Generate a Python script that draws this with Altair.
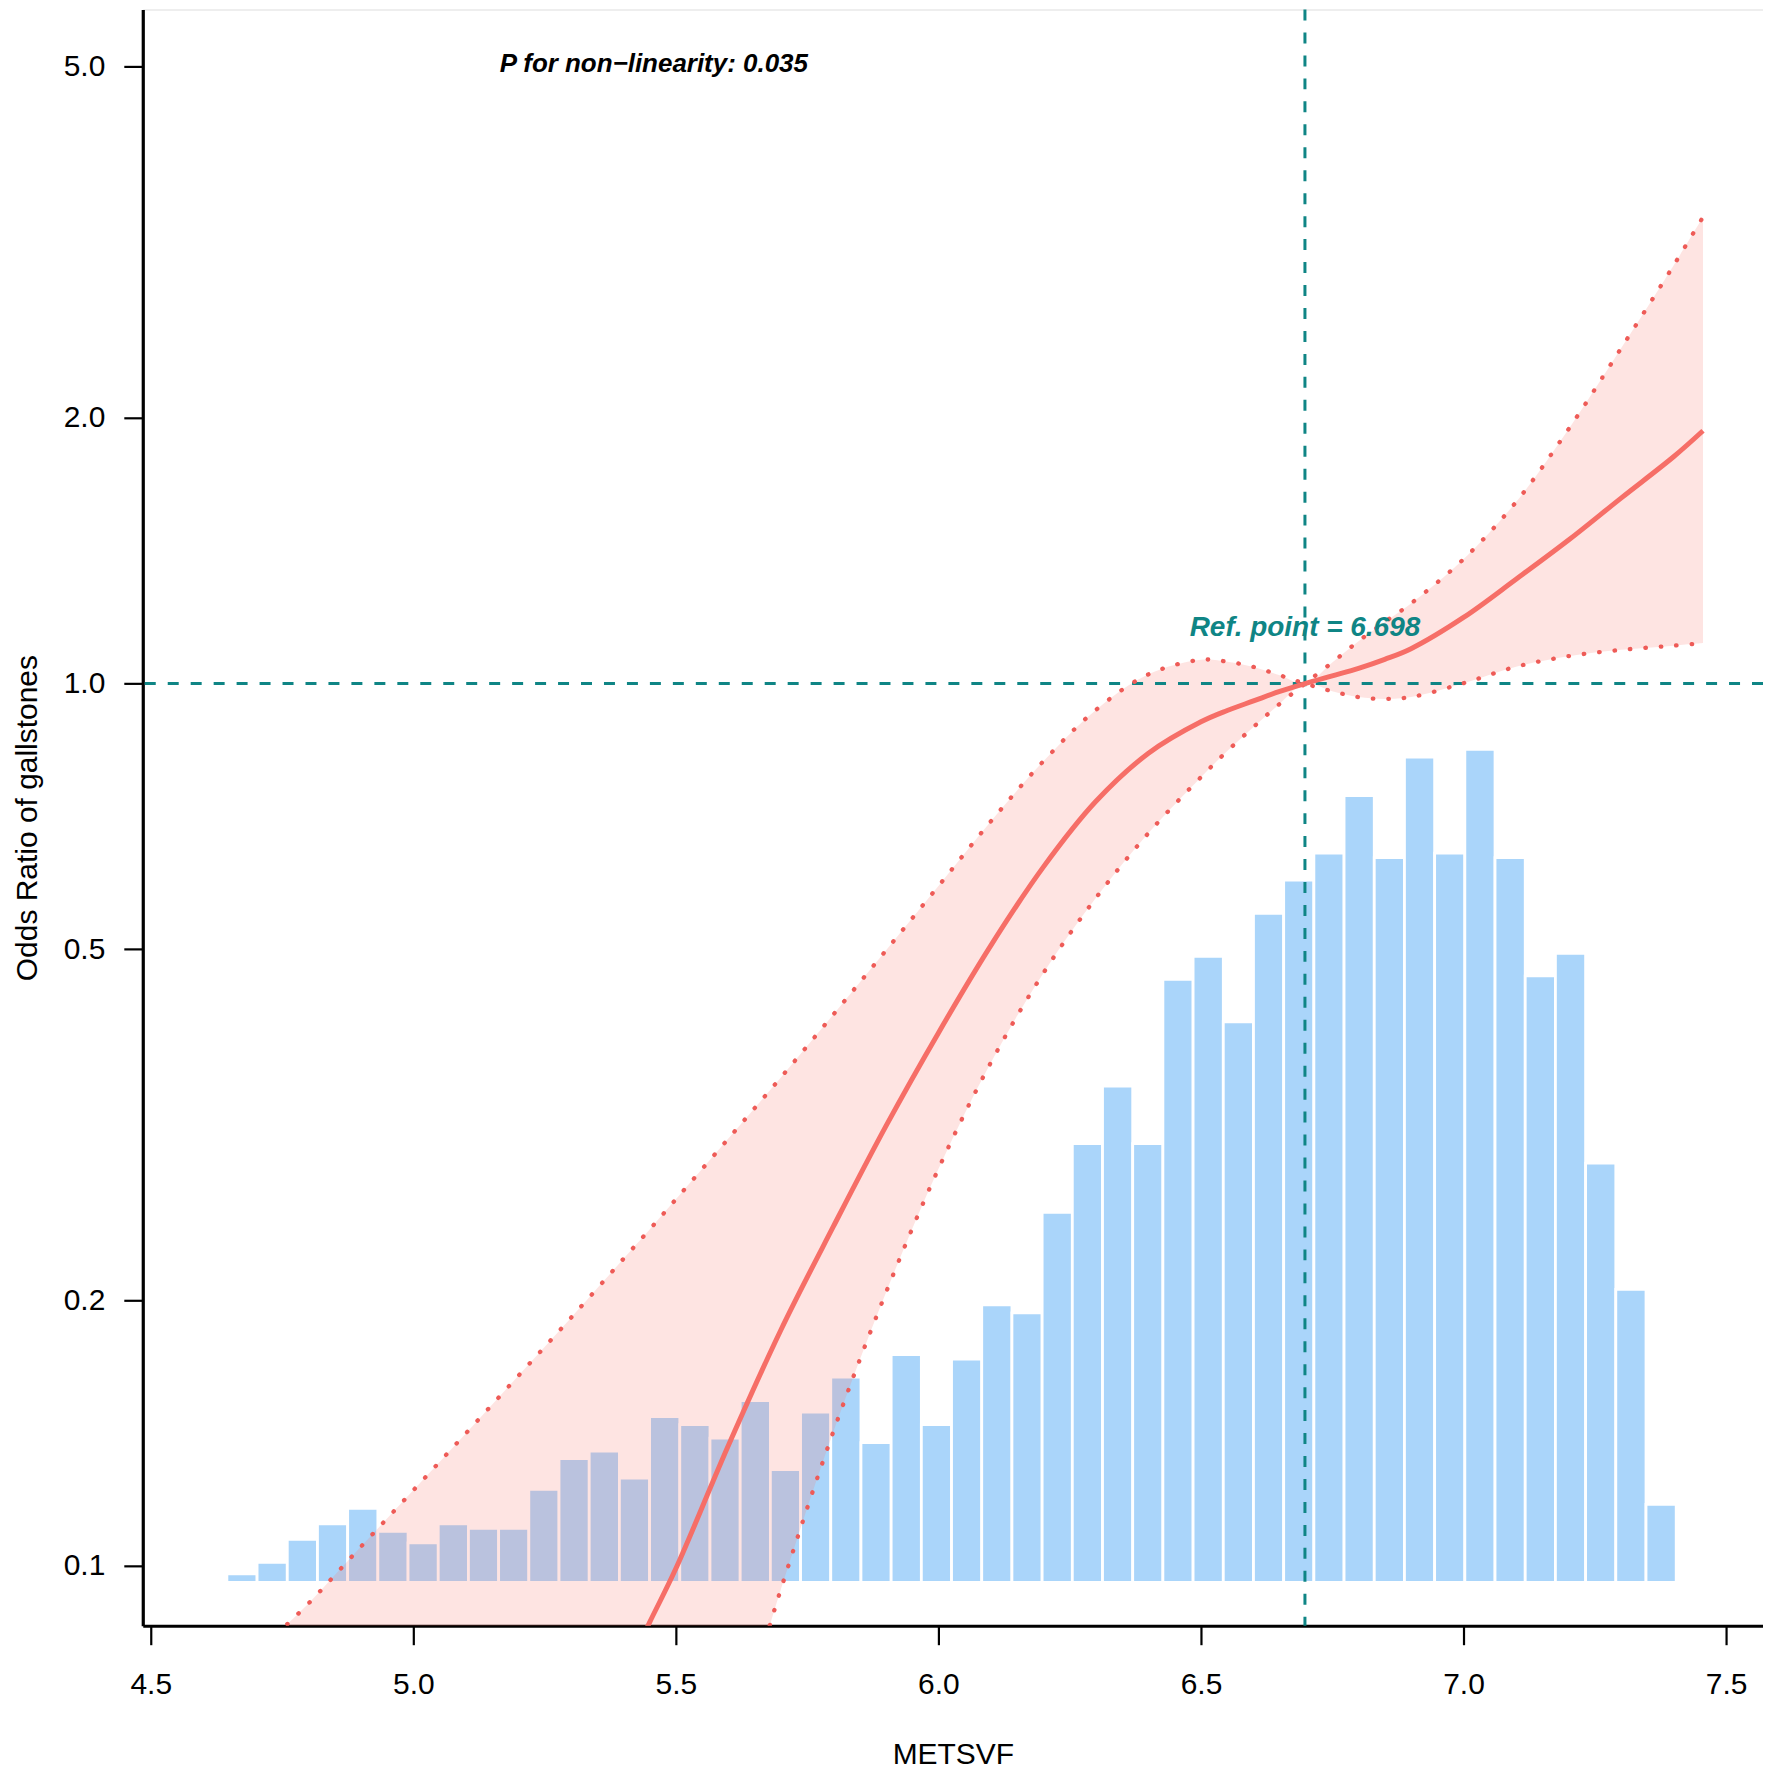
import altair as alt
import pandas as pd

# ---------------- data ----------------
# Histogram of METSVF (48 equal bins), bar heights in relative units
BIN_START = 4.645
BIN_WIDTH = 0.0575
hist_freq = [0.85, 2.0, 4.3, 5.85, 7.4, 5.1, 3.95, 5.85, 5.4, 5.4,
             9.3, 12.4, 13.15, 10.45, 16.6, 15.8, 14.45, 18.2, 11.3, 17.05,
             20.55, 14.0, 22.8, 15.8, 22.35, 27.8, 27.0, 37.05, 43.95, 49.7,
             43.95, 60.4, 62.7, 56.15, 67.0, 70.35, 73.05, 78.8, 72.6, 82.65,
             73.05, 83.45, 72.6, 60.75, 63.0, 42.0, 29.35, 7.8]

# Restricted cubic spline: METSVF values, odds ratio and 95% CI
metsvf = [4.76, 4.8, 4.9, 5.0, 5.1, 5.2, 5.3, 5.4, 5.45, 5.5, 5.6, 5.7,
          5.8, 5.9, 6.0, 6.1, 6.2, 6.3, 6.4, 6.5, 6.55, 6.6, 6.65, 6.698,
          6.75, 6.8, 6.85, 6.9, 7.0, 7.1, 7.2, 7.3, 7.4, 7.456]
or_est = [0.011, 0.0125, 0.017, 0.023, 0.031, 0.042, 0.056, 0.0748, 0.0863,
          0.0993, 0.1369, 0.1851, 0.2425, 0.3151, 0.4019, 0.5050, 0.6198,
          0.7355, 0.8338, 0.9051, 0.9322, 0.9557, 0.9797, 1.0, 1.0205,
          1.0406, 1.0654, 1.0954, 1.1885, 1.3130, 1.4544, 1.6228, 1.8075,
          1.9344]
or_upper = [0.0859, 0.0906, 0.1051, 0.1218, 0.1413, 0.1642, 0.1910, 0.2228,
            0.2406, 0.2603, 0.3050, 0.3578, 0.4217, 0.4983, 0.5896, 0.6982,
            0.8168, 0.9337, 1.0245, 1.0640, 1.0590, 1.0445, 1.0221, 1.0,
            1.0568, 1.1172, 1.1745, 1.2327, 1.3838, 1.6062, 1.9427, 2.3988,
            2.9776, 3.379]
or_lower = [0.0026, 0.003, 0.0045, 0.0065, 0.0095, 0.014, 0.020, 0.029,
            0.035, 0.042, 0.060, 0.0941, 0.1420, 0.2040, 0.2818, 0.3721,
            0.4699, 0.5717, 0.6770, 0.7834, 0.8385, 0.8929, 0.9487, 1.0,
            0.9802, 0.9654, 0.9609, 0.9656, 1.0010, 1.0450, 1.0742, 1.0920,
            1.1041, 1.1116]

REF_POINT = 6.698
x_ticks = [4.5, 5.0, 5.5, 6.0, 6.5, 7.0, 7.5]
y_ticks = [0.1, 0.2, 0.5, 1.0, 2.0, 5.0]

# ---------------- tables ----------------
df_hist = pd.DataFrame({
    "x0": [BIN_START + i * BIN_WIDTH for i in range(len(hist_freq))],
    "freq": hist_freq,
})
df_hist["x1"] = df_hist["x0"] + BIN_WIDTH

df = pd.DataFrame({"x": metsvf, "est": or_est, "hi": or_upper, "lo": or_lower})
# the two dotted CI curves cross at the reference point
left = df["x"] <= REF_POINT
df["ci_a"] = df["hi"].where(left, df["lo"])
df["ci_b"] = df["lo"].where(left, df["hi"])

df_h = pd.DataFrame({"y": [1.0]})
df_v = pd.DataFrame({"x": [REF_POINT]})
df_p = pd.DataFrame({"x": [5.458], "y": [4.933], "t": ["P for non\u2212linearity: 0.035"]})
df_r = pd.DataFrame({"x": [REF_POINT], "y": [1.131], "t": ["Ref. point = 6.698"]})

# ---------------- styling ----------------
FONT = "Liberation Sans"
RED_FILL = "#F8766D"
RED_LINE = "#F66E67"
RED_DOT = "#EE5B57"
TEAL = "#0F8585"
BLUE = "#AAD5FA"

xscale = alt.Scale(domain=[4.4848, 7.5703], nice=False, zero=False)
yscale = alt.Scale(type="log", domain=[0.08554, 5.808], nice=False)

xaxis = alt.Axis(values=x_ticks, format=".1f", title="METSVF", grid=False,
                 domainColor="black", domainWidth=3.2, tickColor="black",
                 tickWidth=2.2, tickSize=19, labelFont=FONT, labelFontSize=30,
                 labelColor="black", labelPadding=25, labelFlush=False,
                 labelOverlap=False, titleFont=FONT, titleFontSize=30,
                 titleFontWeight="normal", titleColor="black", titlePadding=40)
yaxis = alt.Axis(orient="left", values=y_ticks, format=".1f",
                 title="Odds Ratio of gallstones", grid=False,
                 domainColor="black", domainWidth=3.2, tickColor="black",
                 tickWidth=2.2, tickSize=19, labelFont=FONT, labelFontSize=30,
                 labelColor="black", labelPadding=19, labelOverlap=False,
                 titleFont=FONT, titleFontSize=30, titleFontWeight="normal",
                 titleColor="black", titlePadding=21)

X = lambda f: alt.X(f, scale=xscale, axis=xaxis)
Y = lambda f: alt.Y(f, scale=yscale, axis=yaxis)

bars = alt.Chart(df_hist).mark_rect(color=BLUE, stroke="white", strokeWidth=2.8).encode(
    x=X("x0:Q"),
    x2="x1:Q",
    y=alt.Y("freq:Q", scale=alt.Scale(domain=[-4.35, 157.55], nice=False, zero=False), axis=None),
    y2=alt.datum(0),
)

INTERP = "catmull-rom"
base = alt.Chart(df)
band = base.mark_area(color=RED_FILL, opacity=0.2, interpolate=INTERP, clip=True).encode(
    x=X("x:Q"), y=Y("hi:Q"), y2="lo:Q")
dot_style = dict(color=RED_DOT, strokeWidth=4.3, strokeDash=[0.5, 15], strokeCap="round",
                 interpolate=INTERP, clip=True)
ci_a = base.mark_line(**dot_style).encode(x=X("x:Q"), y=Y("ci_a:Q"))
ci_b = base.mark_line(**dot_style).encode(x=X("x:Q"), y=Y("ci_b:Q"))
hline = alt.Chart(df_h).mark_rule(color=TEAL, strokeWidth=3, strokeDash=[11, 12]).encode(y=Y("y:Q"))
vline = alt.Chart(df_v).mark_rule(color=TEAL, strokeWidth=3, strokeDash=[11, 12]).encode(x=X("x:Q"))
curve = base.mark_line(color=RED_LINE, strokeWidth=5, interpolate=INTERP, clip=True).encode(
    x=X("x:Q"), y=Y("est:Q"))
ptext = alt.Chart(df_p).mark_text(font=FONT, fontSize=26, fontWeight="bold", fontStyle="italic",
                                  align="center", baseline="alphabetic", color="black").encode(
    x=X("x:Q"), y=Y("y:Q"), text="t:N")
rtext = alt.Chart(df_r).mark_text(font=FONT, fontSize=28, fontWeight="bold", fontStyle="italic",
                                  align="center", baseline="alphabetic", color=TEAL).encode(
    x=X("x:Q"), y=Y("y:Q"), text="t:N")

inner = alt.layer(band, hline, vline, ci_a, ci_b, curve, ptext, rtext)

chart = alt.layer(bars, inner).resolve_scale(y="independent").properties(
    width=1623, height=1619,
    padding={"left": 135, "top": 0, "right": 0, "bottom": 142},
    autosize=alt.AutoSizeParams(type="none"),
).configure_view(stroke=None).configure(font=FONT, background="white")

chart.save("out.html", embed_options={"renderer": "svg", "actions": False})
